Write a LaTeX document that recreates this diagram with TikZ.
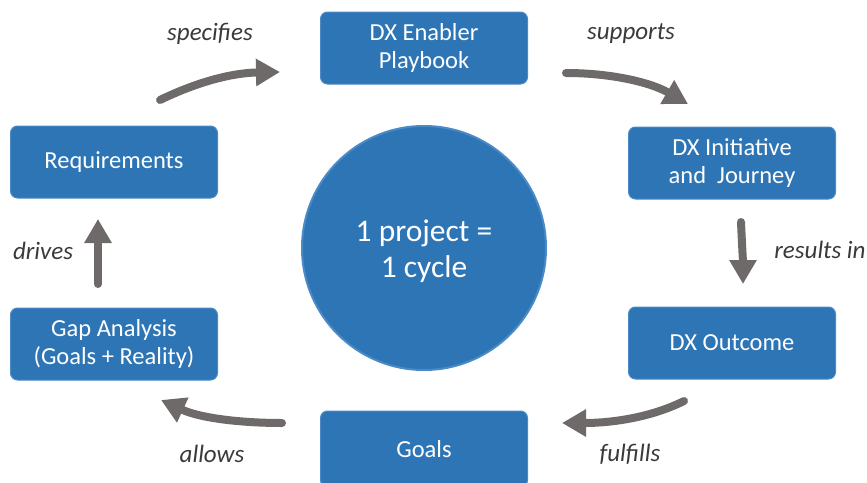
\documentclass[tikz,border=0pt]{standalone}
\usepackage{fontspec}
\setmainfont{Carlito}
\usetikzlibrary{arrows.meta}
\definecolor{boxblue}{HTML}{2E75B6}
\definecolor{boxedge}{HTML}{4A8AC6}
\definecolor{arrowgray}{HTML}{6E6A6A}
\definecolor{labelgray}{HTML}{3A3A3A}
\begin{document}
\begin{tikzpicture}[x=1pt,y=-1pt,
  box/.style={draw=boxedge,line width=1pt,fill=boxblue,rounded corners=7pt,minimum width=207pt,minimum height=72pt,text=white,font=\fontsize{24.5}{28}\selectfont,align=center,inner sep=0pt},
  flow/.style={draw=arrowgray,line width=8pt,line cap=round,-{Triangle[length=24pt,width=26pt]}},
  lbl/.style={text=labelgray,font=\fontsize{25}{28}\selectfont\itshape}]
\useasboundingbox (0,0) rectangle (867,482);
\node[box] (play) at (424,48) {DX Enabler\\Playbook};
\node[box] (init) at (732,163) {DX Initiative\\and\ \ Journey};
\node[box] (out) at (732,343) {DX Outcome};
\node[box,minimum height=76pt] (goals) at (424,449) {Goals};
\node[box] (gap) at (114,344) {Gap Analysis\\(Goals + Reality)};
\node[box] (req) at (114,162) {Requirements};
\node[circle,draw=boxedge,line width=2pt,fill=boxblue,minimum size=244pt] (cyc) at (424,248) {};
\node[text=white,font=\fontsize{31.5}{36}\selectfont,align=center] (cyctext) at (424,251) {1 project =\\1 cycle};
\coordinate (a1s) at (160,100); \coordinate (a1e) at (280,72);
\coordinate (a2s) at (566,73); \coordinate (a2e) at (688,104);
\coordinate (a3s) at (741,222); \coordinate (a3e) at (743,284);
\coordinate (a4s) at (684,401); \coordinate (a4e) at (562,423);
\coordinate (a5s) at (282,423); \coordinate (a5e) at (161,400);
\coordinate (a6s) at (98,284); \coordinate (a6e) at (98,219);
\draw[flow] (a1s) .. controls (195,83) and (230,73) .. (a1e);
\draw[flow] (a2s) .. controls (610,73) and (650,82) .. (a2e);
\draw[flow] (a3s) .. controls (742,245) and (743,262) .. (a3e);
\draw[flow] (a4s) .. controls (650,418) and (610,423) .. (a4e);
\draw[flow] (a5s) .. controls (240,423) and (200,418) .. (a5e);
\draw[flow] (a6s) -- (a6e);
\node[lbl] (l1) at (210,34) {specifies};
\node[lbl] (l2) at (631,34) {supports};
\node[lbl] (l3) at (820,250) {results in};
\node[lbl] (l4) at (630,454) {fulfills};
\node[lbl] (l5) at (212,454) {allows};
\node[lbl] (l6) at (43,251) {drives};
\end{tikzpicture}
\end{document}
